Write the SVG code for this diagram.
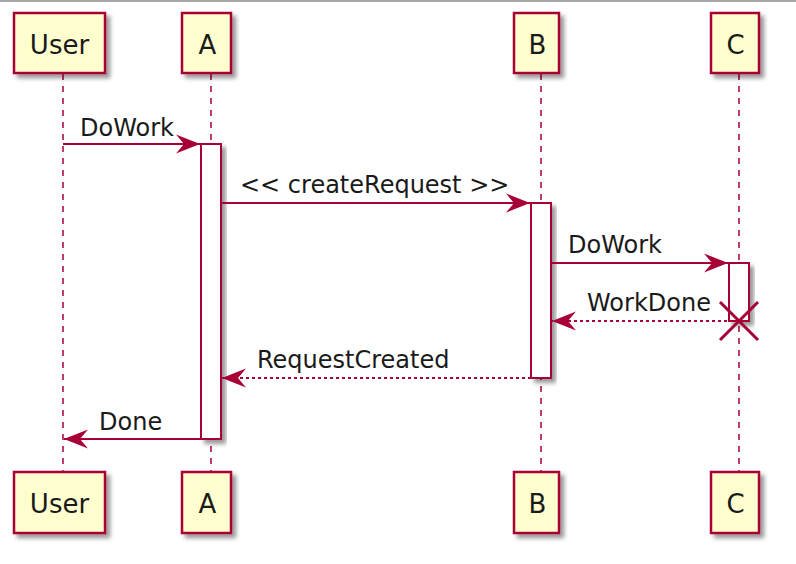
<svg xmlns="http://www.w3.org/2000/svg" width="796" height="564" viewBox="0 0 796 564">
  <style>
    .part { fill: #FEFECE; stroke: #A80036; stroke-width: 2.5; filter: url(#shadow); }
    .act { fill: #FFFFFF; stroke: #A80036; stroke-width: 2; filter: url(#shadow); }
    .life { stroke: #A80036; stroke-width: 1.5; stroke-dasharray: 6 6; fill: none; }
    .msg { stroke: #A80036; stroke-width: 2; fill: none; marker-end: url(#arrow); }
    .ret { stroke: #A80036; stroke-width: 2; fill: none; stroke-dasharray: 3 3; marker-end: url(#arrow); }
    .ptext { font-family: "DejaVu Sans", sans-serif; font-size: 26px; fill: #1a1a1a; text-anchor: middle; }
    .mtext { font-family: "DejaVu Sans", sans-serif; font-size: 24px; fill: #1a1a1a; }
    .destroy { stroke: #A80036; stroke-width: 3; }
  </style>
  <defs>
    <filter id="shadow" x="-30%" y="-30%" width="160%" height="160%">
      <feDropShadow dx="4" dy="4" stdDeviation="2" flood-color="#000000" flood-opacity="0.4"/>
    </filter>
    <marker id="arrow" viewBox="-26 -11 28 22" refX="0" refY="0" markerWidth="28" markerHeight="22" markerUnits="userSpaceOnUse" orient="auto">
      <path d="M0,0 L-24,-9.5 L-16,0 L-24,9.5 Z" fill="#A80036"/>
    </marker>
  </defs>

  <rect x="0" y="0" width="796" height="564" fill="#FFFFFF"/>
  <line x1="0" y1="1" x2="796" y2="1" stroke="#A8A8A8" stroke-width="2"/>

  <g id="lifelines">
    <line class="life" x1="63" y1="74" x2="63" y2="472"/>
    <line class="life" x1="211" y1="74" x2="211" y2="472"/>
    <line class="life" x1="541" y1="74" x2="541" y2="472"/>
    <line class="life" x1="739" y1="74" x2="739" y2="472"/>
  </g>

  <g id="User">
    <rect class="part" x="14" y="13" width="91" height="60"/>
    <text class="ptext" x="59.5" y="54">User</text>
    <rect class="part" x="14" y="472" width="91" height="61"/>
    <text class="ptext" x="59.5" y="513">User</text>
  </g>
  <g id="A">
    <rect class="part" x="182" y="13" width="49" height="60"/>
    <text class="ptext" x="207.5" y="54">A</text>
    <rect class="part" x="182" y="472" width="49" height="61"/>
    <text class="ptext" x="207.5" y="513">A</text>
    <rect class="act" x="201" y="144" width="20" height="295"/>
  </g>
  <g id="B">
    <rect class="part" x="514" y="13" width="45" height="60"/>
    <text class="ptext" x="537.5" y="54">B</text>
    <rect class="part" x="514" y="472" width="45" height="61"/>
    <text class="ptext" x="537.5" y="513">B</text>
    <rect class="act" x="531" y="203" width="20" height="175"/>
  </g>
  <g id="C">
    <rect class="part" x="711" y="13" width="48" height="60"/>
    <text class="ptext" x="735.5" y="54">C</text>
    <rect class="part" x="711" y="472" width="48" height="61"/>
    <text class="ptext" x="735.5" y="513">C</text>
    <rect class="act" x="729" y="263" width="20" height="58"/>
  </g>

  <g id="connectors">
    <line class="msg" x1="63" y1="144" x2="200" y2="144"/>
    <text class="mtext" x="80" y="136">DoWork</text>

    <line class="msg" x1="221" y1="203" x2="530" y2="203"/>
    <text class="mtext" x="240" y="193">&lt;&lt; createRequest &gt;&gt;</text>

    <line class="msg" x1="551" y1="263" x2="728" y2="263"/>
    <text class="mtext" x="568" y="253">DoWork</text>

    <line class="ret" x1="739" y1="321" x2="552" y2="321"/>
    <text class="mtext" x="587" y="311">WorkDone</text>

    <line class="ret" x1="531" y1="378" x2="222" y2="378"/>
    <text class="mtext" x="257" y="368">RequestCreated</text>

    <line class="msg" x1="201" y1="439" x2="64" y2="439"/>
    <text class="mtext" x="99" y="430">Done</text>

    <g id="destroy-C">
      <line class="destroy" x1="720" y1="302" x2="758" y2="340"/>
      <line class="destroy" x1="758" y1="302" x2="720" y2="340"/>
    </g>
  </g>
</svg>
